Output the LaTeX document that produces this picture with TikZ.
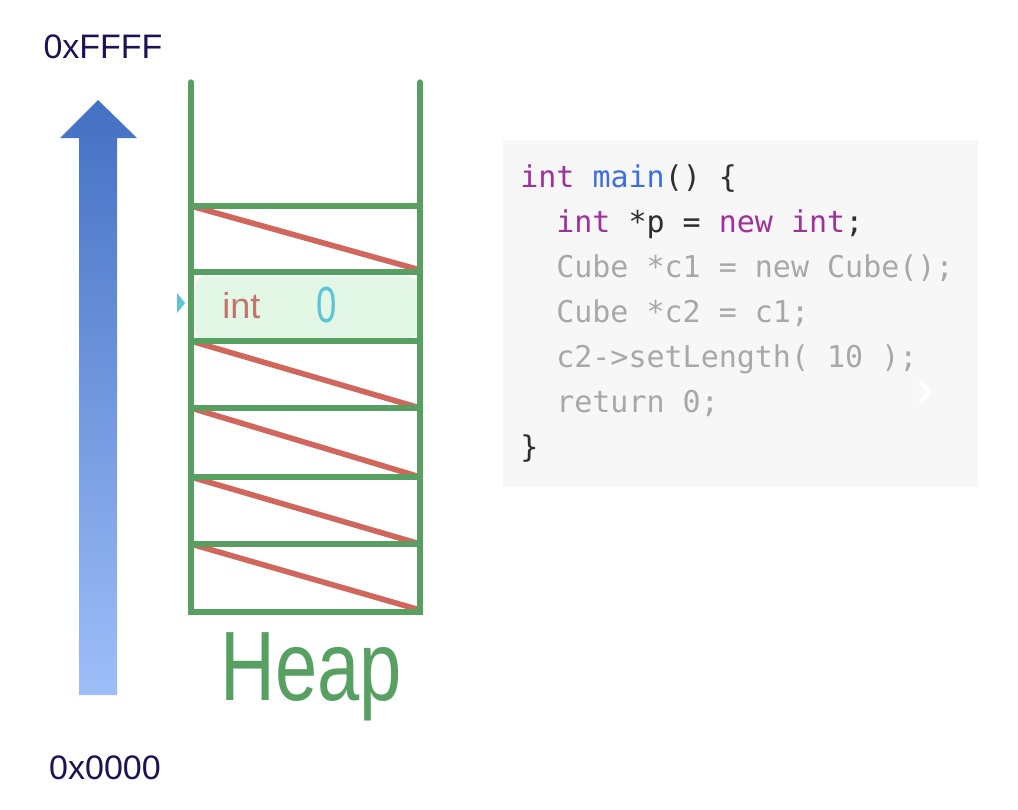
\documentclass[tikz,border=0pt]{standalone}
\usepackage{fontspec}
\setmainfont{Liberation Sans}
\newfontfamily\codefont{DejaVu Sans Mono}
\newfontfamily\handfont{Liberation Sans}
\definecolor{heapgreen}{HTML}{57A062}
\definecolor{slashred}{HTML}{D0665C}
\definecolor{rowfill}{HTML}{E3F7E6}
\definecolor{inkbrown}{HTML}{C4746A}
\definecolor{inkcyan}{HTML}{5BC4D6}
\definecolor{navy}{HTML}{1A1456}
\definecolor{codebg}{HTML}{F7F7F7}
\definecolor{kwpurple}{HTML}{A0309C}
\definecolor{fnblue}{HTML}{3D6FE0}
\definecolor{codedark}{HTML}{2E2E2E}
\definecolor{codegray}{HTML}{A8A8A8}
\definecolor{arrowtop}{HTML}{4470C3}
\definecolor{arrowbot}{HTML}{9EBEF9}
\tikzset{
  wall/.style={draw=heapgreen, line width=4pt, line cap=round},
  slash/.style={draw=slashred, line width=4.2pt},
  addr/.style={font=\fontsize{25.5}{28}\selectfont, text=navy, inner sep=0pt},
  codeline/.style={font=\codefont\fontsize{22.5}{27}\selectfont, anchor=base west, inner sep=0pt},
}
\begin{document}
\begin{tikzpicture}[x=0.75pt, y=-0.75pt]
\useasboundingbox (0,0) rectangle (1018,810);
% address labels
\node[addr] (top) at (103,47) {0xFFFF};
\node[addr] (bot) at (105,768) {0x0000};
% arrow
\shade[top color=arrowtop, bottom color=arrowbot]
  (98,100) -- (137,138) -- (117,138) -- (117,695) -- (79,695) -- (79,138) -- (60,138) -- cycle;
% highlighted row
\fill[rowfill, rounded corners=8pt] (195,276) rectangle (418,340);
\fill[inkcyan] (177,293) -- (185,303) -- (177,313) -- cycle;
% slashes
\draw[slash] (191,206) -- (420,270);
\draw[slash] (191,341) -- (420,408);
\draw[slash] (191,408) -- (420,477);
\draw[slash] (191,477) -- (420,544);
\draw[slash] (191,544) -- (420,610);
% heap walls
\draw[wall] (191,82) -- (191,612) -- (420,612) -- (420,82);
\foreach \yy in {206,272,341,408,477,544}
  \draw[wall, line cap=butt] (191,\yy) -- (420,\yy);
% row content
\node[font=\handfont\fontsize{27}{30}\selectfont, text=inkbrown, inner sep=0pt, anchor=base west] (intlbl) at (222,318) {int};
\node[font=\handfont\fontsize{38}{40}\selectfont, text=inkcyan, inner sep=0pt, xscale=0.72] (zero) at (327,305) {0};
% Heap label
\node[font=\handfont\fontsize{74}{80}\selectfont, text=heapgreen, inner sep=0pt, anchor=base west, xscale=0.77] (heap) at (220,700) {Heap};
% code box
\fill[codebg] (503,140) rectangle (978,487);
\draw[white, line width=3pt, line cap=round, line join=round] (921,383) -- (929,392) -- (921,401);
\node[codeline] (l1) at (520,187) {\textcolor{kwpurple}{int} \textcolor{fnblue}{main}\textcolor{codedark}{() \{}};
\node[codeline] (l2) at (556,232) {\textcolor{kwpurple}{int} \textcolor{codedark}{*p =} \textcolor{kwpurple}{new} \textcolor{kwpurple}{int}\textcolor{codedark}{;}};
\node[codeline, text=codegray] (l3) at (556,277) {Cube *c1 = new Cube();};
\node[codeline, text=codegray] (l4) at (556,322) {Cube *c2 = c1;};
\node[codeline, text=codegray] (l5) at (556,367) {c2->setLength( 10 );};
\node[codeline, text=codegray] (l6) at (556,412) {return 0;};
\node[codeline, text=codedark] (l7) at (520,457) {\}};
\end{tikzpicture}
\end{document}
